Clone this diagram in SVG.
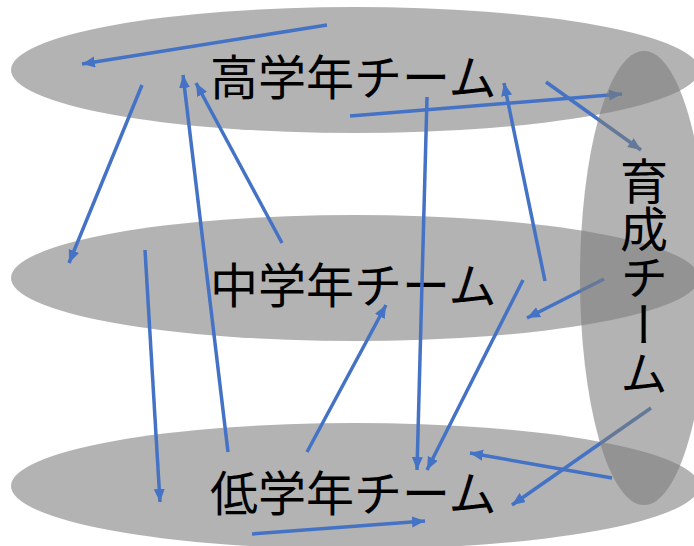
<svg xmlns="http://www.w3.org/2000/svg" width="694" height="546" viewBox="0 0 694 546">
<defs>
<style>
.layer{fill:#b3b3b3;}
.lbl{font-family:"Noto Sans CJK JP","Noto Sans CJK SC",sans-serif;font-size:48px;fill:#000;}
.arr{stroke:#4472c4;stroke-width:3.5;fill:none;marker-end:url(#ah);}
.vert{fill:#7c7c7c;fill-opacity:0.58;}
</style>
<marker id="ah" markerUnits="userSpaceOnUse" markerWidth="14" markerHeight="12" refX="13" refY="5.5" orient="auto">
<path d="M0,0 L13,5.5 L0,11 z" fill="#4472c4"/>
</marker>
</defs>
<rect width="694" height="546" fill="#fff"/>
<g id="node-high">
<ellipse class="layer" cx="355" cy="70" rx="344" ry="63"/>
<text class="lbl" x="210" y="95">高学年チーム</text>
</g>
<g id="node-middle">
<ellipse class="layer" cx="355" cy="278" rx="344" ry="63"/>
<text class="lbl" x="210" y="303">中学年チーム</text>
</g>
<g id="node-low">
<ellipse class="layer" cx="355" cy="486" rx="344" ry="63"/>
<text class="lbl" x="210" y="511">低学年チーム</text>
</g>
<g id="connectors">
<line class="arr" x1="327" y1="25" x2="82" y2="64"/>
<line class="arr" x1="142" y1="85" x2="69" y2="263"/>
<line class="arr" x1="228" y1="452" x2="183" y2="75"/>
<line class="arr" x1="282" y1="243" x2="196" y2="83"/>
<line class="arr" x1="145" y1="250" x2="160" y2="502"/>
<line class="arr" x1="307" y1="452" x2="386" y2="305"/>
<line class="arr" x1="350" y1="116" x2="622" y2="94"/>
<line class="arr" x1="546" y1="82" x2="641" y2="150"/>
<line class="arr" x1="427" y1="97" x2="417" y2="470"/>
<line class="arr" x1="545" y1="281" x2="504" y2="83"/>
<line class="arr" x1="523" y1="280" x2="427" y2="470"/>
<line class="arr" x1="604" y1="279" x2="527" y2="318"/>
<line class="arr" x1="612" y1="478" x2="470" y2="453"/>
<line class="arr" x1="651" y1="408" x2="512" y2="505"/>
<line class="arr" x1="252" y1="534" x2="425" y2="521"/>
</g>
<g id="node-training">
<ellipse class="vert" cx="644" cy="278" rx="64" ry="227"/>
<text class="lbl" x="644" y="157" style="writing-mode:vertical-rl;text-orientation:upright">育成チーム</text>
</g>
</svg>
